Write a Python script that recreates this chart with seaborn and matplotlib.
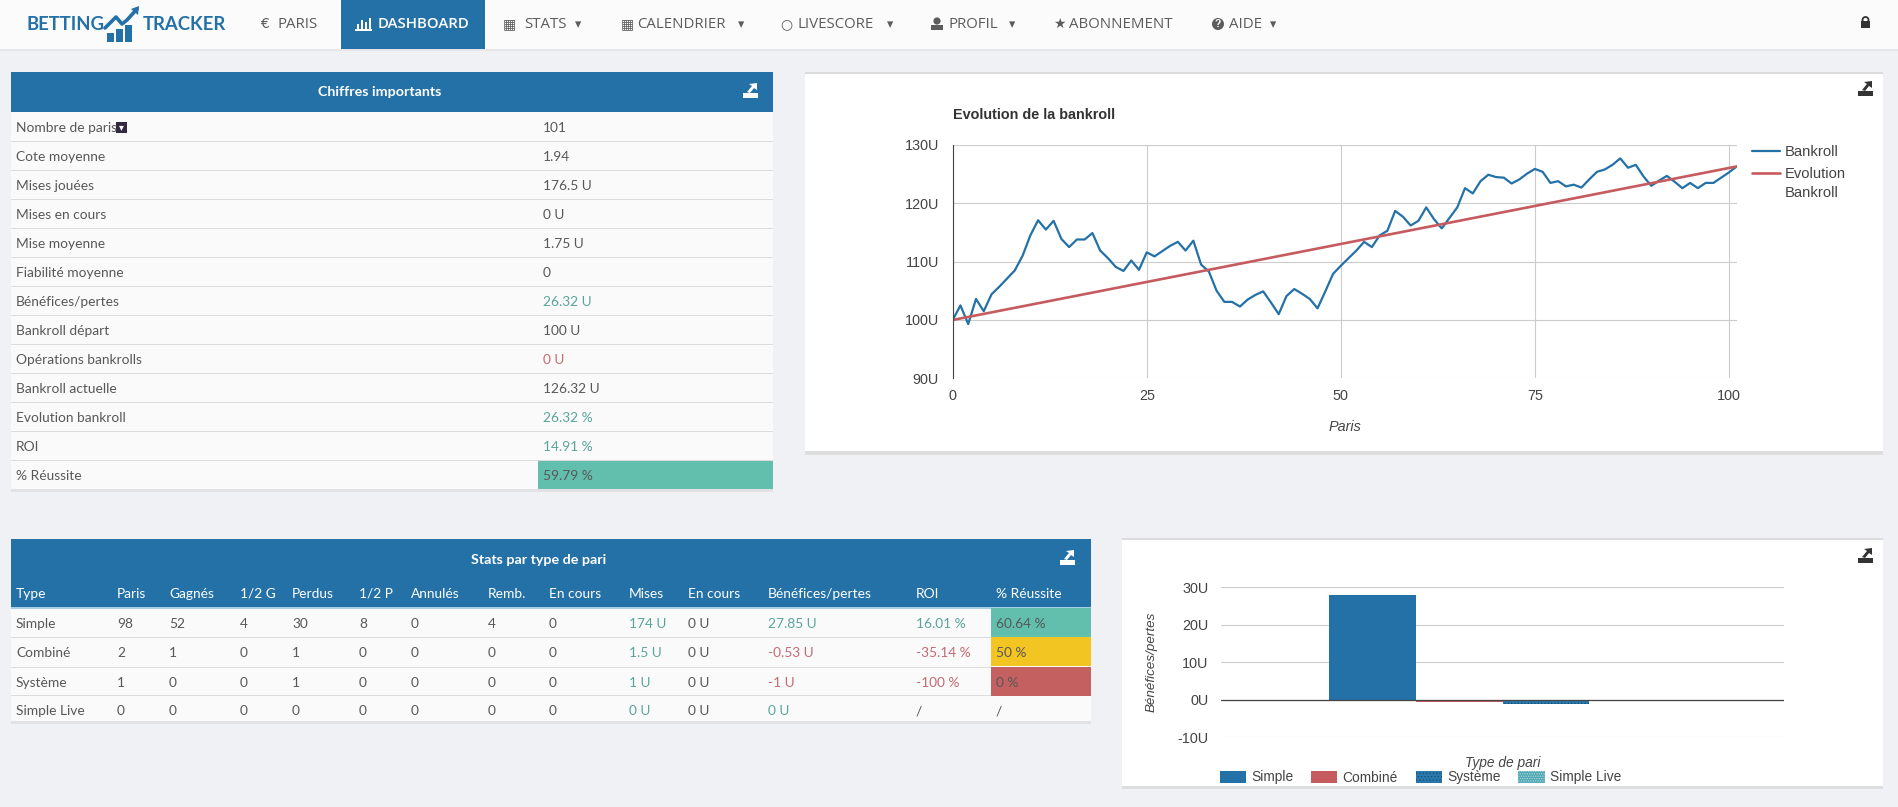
import matplotlib
matplotlib.use('Agg')
import matplotlib.pyplot as plt
import pandas as pd
import seaborn as sns
from matplotlib.patches import Circle, Patch, Polygon, Rectangle

# Values
bankroll = [100, 102.5, 99.3, 103.6, 101.5, 104.4, 105.7, 107.1, 108.5, 111, 114.5, 117.1, 115.5, 117,
            113.9, 112.5, 113.8, 113.8, 114.9, 111.9, 110.6, 109.1, 108.4, 110.2, 108.6, 111.6, 110.9,
            111.8, 112.7, 113.4, 111.9, 113.6, 109.5, 108.3, 105, 103.1, 103.1, 102.3, 103.5, 104.3,
            104.9, 103, 101, 104.1, 105.3, 104.5, 103.6, 102, 104.9, 107.9, 109.3, 110.6, 111.9, 113.4,
            112.5, 114.5, 115.3, 118.7, 117.7, 116.2, 117, 119.3, 117.3, 115.7, 117.5, 119.3, 122.6,
            121.7, 123.8, 124.9, 124.5, 124.4, 123.4, 124.1, 125.1, 125.9, 125.4, 123.5, 123.8, 122.9,
            123.2, 122.7, 124.1, 125.4, 125.8, 126.6, 127.7, 126.1, 126.6, 124.6, 123, 123.9, 124.7,
            123.7, 122.6, 123.5, 122.6, 123.5, 123.5, 124.4, 125.3, 126.32]
evolution_x = [0, 101]
evolution_y = [100, 126.32]
line_ticks_x = [0, 25, 50, 75, 100]
line_ticks_y = [90, 100, 110, 120, 130]

bet_types = ['Simple', 'Combiné', 'Système', 'Simple Live']
bet_profit = [27.85, -0.53, -1, 0]
bar_ticks_y = [-10, 0, 10, 20, 30]

key_labels = ['Nombre de paris', 'Cote moyenne', 'Mises jouées', 'Mises en cours', 'Mise moyenne',
              'Fiabilité moyenne', 'Bénéfices/pertes', 'Bankroll départ', 'Opérations bankrolls',
              'Bankroll actuelle', 'Evolution bankroll', 'ROI', '% Réussite']
key_values = ['101', '1.94', '176.5 U', '0 U', '1.75 U', '0', '26.32 U', '100 U', '0 U', '126.32 U',
              '26.32 %', '14.91 %', '59.79 %']
key_tones = ['n', 'n', 'n', 'n', 'n', 'n', 'g', 'n', 'r', 'n', 'g', 'g', 'n']

type_columns = ['Type', 'Paris', 'Gagnés', '1/2 G', 'Perdus', '1/2 P', 'Annulés', 'Remb.', 'En cours',
                'Mises', 'En cours', 'Bénéfices/pertes', 'ROI', '% Réussite']
type_rows = [
    ['Simple', '98', '52', '4', '30', '8', '0', '4', '0', '174 U', '0 U', '27.85 U', '16.01 %', '60.64 %'],
    ['Combiné', '2', '1', '0', '1', '0', '0', '0', '0', '1.5 U', '0 U', '-0.53 U', '-35.14 %', '50 %'],
    ['Système', '1', '0', '0', '1', '0', '0', '0', '0', '1 U', '0 U', '-1 U', '-100 %', '0 %'],
    ['Simple Live', '0', '0', '0', '0', '0', '0', '0', '0', '0 U', '0 U', '0 U', '/', '/'],
]
profit_tones = ['g', 'r', 'r', 'g']
roi_tones = ['g', 'r', 'r', 'n']
rate_cells = ['#62bfae', '#f2c522', '#c4605f', None]

nav_items = ['PARIS', 'DASHBOARD', 'STATS', 'CALENDRIER', 'LIVESCORE', 'PROFIL', 'ABONNEMENT', 'AIDE']

BLUE = '#2471a8'
RED = '#c65b5f'
BG = '#f0f1f5'
ROW = '#fafafa'
LINE = '#dcdcdc'
TEXT = '#585858'
TONES = {'n': TEXT, 'g': '#5aa59b', 'r': '#c56a72'}
UI_FONT = ['Lato', 'DejaVu Sans']
NAV_FONT = ['Open Sans', 'DejaVu Sans']
CHART_FONT = ['Liberation Sans', 'DejaVu Sans']

W, H = 1899, 807

sns.set_theme(style='whitegrid')
plt.rcParams['font.family'] = CHART_FONT
plt.rcParams['hatch.linewidth'] = 0.6

fig = plt.figure(figsize=(W / 100, H / 100), dpi=100, facecolor=BG)

# page layer in pixel coordinates, for the cards and tables around the charts
page = fig.add_axes([0, 0, 1, 1], zorder=0)
page.set_xlim(0, W)
page.set_ylim(H, 0)
page.axis('off')


def box(x0, y0, x1, y1, color, z=1):
    page.add_patch(Rectangle((x0, y0), x1 - x0, y1 - y0, facecolor=color, edgecolor='none', zorder=z))


def label(x, y, s, size=9.9, color=TEXT, ha='left', family=UI_FONT, **kw):
    page.text(x, y, s, fontsize=size, color=color, ha=ha, va='center', family=family, zorder=5, **kw)


def export_icon(x, y, color):
    box(x - 8, y + 2, x + 7, y + 7, color, 4)
    page.add_patch(Polygon([(x - 4, y + 1), (x + 1, y - 5), (x - 2, y - 7), (x + 6, y - 8), (x + 6, y - 1),
                            (x + 3, y - 3), (x - 1, y + 2)], facecolor=color, edgecolor='none', zorder=4))


# nav bar
box(0, 0, W, 49, '#fbfbfb')
box(0, 49, W, 51, '#e6e6ea')
box(341, 0, 485, 49, BLUE, 2)
label(27, 24, 'BETTING', 13.3, BLUE, fontweight='bold')
label(143, 24, 'TRACKER', 13.3, BLUE, fontweight='bold')
for bx, top in zip([107, 116, 125], [33, 29, 25]):
    box(bx, top, bx + 7, 42, BLUE, 3)
page.plot([105, 116, 122, 127, 137], [28, 17, 24, 20, 9], color=BLUE, lw=2.6, zorder=3)
page.add_patch(Polygon([(131, 9), (139, 6), (138, 15)], facecolor=BLUE, edgecolor='none', zorder=3))

nav_x = [278, 378, 524, 637, 798, 949, 1069, 1229]
icon_x = [264, 364, 509, 627, 786, 937, 1059, 1218]
nav_icons = ['€', None, '▦', '▦', '○', None, '★', None]
has_caret = [False, False, True, True, True, True, False, True]
nav_width = [48, 91, 46, 96, 84, 55, 107, 36]
for name, tx, ix, glyph, caret, wd in zip(nav_items, nav_x, icon_x, nav_icons, has_caret, nav_width):
    active = name == 'DASHBOARD'
    col = 'white' if active else '#5c5c5c'
    label(tx, 24, name, 10.8, col, family=NAV_FONT, fontweight='semibold' if active else 'normal')
    if glyph:
        label(ix, 24, glyph, 10, col, ha='center', family=['DejaVu Sans'])
    if caret:
        label(tx + wd + 8, 25, '▾', 9, col, ha='center', family=['DejaVu Sans'])
for bx, top in zip([357, 361, 365, 369], [24, 20, 22, 18]):
    box(bx, top, bx + 2.5, 29, 'white', 3)
box(355, 29, 372, 30.5, 'white', 3)
# profil and aide icons
page.add_patch(Circle((937, 21), 3.6, facecolor='#5c5c5c', edgecolor='none', zorder=4))
box(931, 25, 943, 30, '#5c5c5c', 4)
page.add_patch(Circle((1218, 24), 6, facecolor='#5c5c5c', edgecolor='none', zorder=4))
label(1218, 24, '?', 7.5, 'white', ha='center', family=CHART_FONT, fontweight='bold')
box(1861, 21, 1870, 28, '#333333', 4)
page.add_patch(Circle((1865.5, 20), 3, facecolor='none', edgecolor='#333333', lw=1.3, zorder=4))

# key figures table
box(11, 112, 773, 489, ROW)
box(11, 489, 773, 492, '#e2e2e4')
box(11, 72, 773, 112, BLUE, 2)
label(380, 92, 'Chiffres importants', 10.3, 'white', ha='center', fontweight='bold')
export_icon(751, 91, 'white')
for i, (name, val, tone) in enumerate(zip(key_labels, key_values, key_tones)):
    y = 112 + 29 * i
    if i:
        box(11, y - 0.5, 773, y + 0.7, LINE, 2)
    label(16, y + 16, name)
    if name == '% Réussite':
        box(538, y + 0.7, 773, y + 28.7, rate_cells[0], 3)
    label(543, y + 16, val, color=TONES[tone])
box(116, 122, 127, 133, '#33293f', 4)
label(121.5, 127.5, '▾', 7, 'white', ha='center', family=['DejaVu Sans'])

# stats per bet type table
col_x = [16, 117, 169, 240, 292, 359, 411, 487.5, 549, 629, 688, 768, 916, 996]
box(11, 607, 1091.5, 721, ROW)
box(11, 721, 1091.5, 724, '#e2e2e4')
box(11, 539, 1091.5, 607, BLUE, 2)
box(11, 607, 1091.5, 609, '#a9cfe6', 2)
label(539, 560, 'Stats par type de pari', 10.3, 'white', ha='center', fontweight='bold')
export_icon(1068, 558, 'white')
for cx, name in zip(col_x, type_columns):
    label(cx, 594, name, color='white')
row_y = [624, 653, 683, 711]
for r, row in enumerate(type_rows):
    y = row_y[r]
    if r:
        box(11, y - 16, 1091.5, y - 15, LINE, 2)
    if rate_cells[r]:
        box(991, y - 16, 1091.5, y + 13, rate_cells[r], 3)
    for c, (cx, val) in enumerate(zip(col_x, row)):
        tone = 'n'
        if c == 9:
            tone = 'g'
        elif c == 11:
            tone = profit_tones[r]
        elif c == 12:
            tone = roi_tones[r]
        label(cx, y, val, color=TONES[tone])

# chart cards
box(805, 73, 1883, 451, 'white')
box(805, 451, 1883, 455, '#dededf')
box(805, 72, 1883, 73.5, '#dcdcdc', 2)
export_icon(1866, 89, '#333333')
box(1122, 539, 1883.5, 786, 'white')
box(1122, 786, 1883.5, 789, '#dededf')
box(1122, 538, 1883.5, 539.5, '#dcdcdc', 2)
export_icon(1866, 556, '#333333')


def chart_axes(x0, y0, x1, y1):
    return fig.add_axes([x0 / W, 1 - y1 / H, (x1 - x0) / W, (y1 - y0) / H], zorder=2, facecolor='white')


TICK_SIZE = 10.4
GRID_LW = 0.8

# bankroll line chart
ax = chart_axes(952.7, 145, 1736.7, 378.3)
curve = pd.concat([
    pd.DataFrame({'Paris': range(len(bankroll)), 'U': bankroll, 'Serie': 'Bankroll'}),
    pd.DataFrame({'Paris': evolution_x, 'U': evolution_y, 'Serie': 'Evolution\nBankroll'}),
])
sns.lineplot(data=curve, x='Paris', y='U', hue='Serie', palette=[BLUE, RED], linewidth=1.6,
             estimator=None, errorbar=None, ax=ax)
ax.get_lines()[1].set_linewidth(1.9)
ax.set_xlim(0, 101)
ax.set_ylim(90, 130)
ax.set_xticks(line_ticks_x)
ax.set_yticks(line_ticks_y)
ax.set_yticklabels([f'{v}U' for v in line_ticks_y])
ax.grid(True, color='#cccccc', linewidth=GRID_LW)
for side in ['top', 'right', 'bottom']:
    ax.spines[side].set_visible(False)
ax.spines['left'].set_color('#444444')
ax.spines['left'].set_linewidth(0.8)
ax.tick_params(axis='both', length=0, labelsize=TICK_SIZE, labelcolor='#444444')
ax.tick_params(axis='y', pad=10)
ax.tick_params(axis='x', pad=8)
ax.set_xlabel('Paris', fontsize=TICK_SIZE, fontstyle='italic', color='#444444', labelpad=12)
ax.set_ylabel('')
ax.set_title('Evolution de la bankroll', loc='left', fontsize=10.4, fontweight='bold', color='#333333', pad=19)
leg = ax.legend(handles=ax.get_lines()[:2], labels=['Bankroll', 'Evolution\nBankroll'], loc='upper left',
                bbox_to_anchor=(1.019, 0.998), frameon=False, fontsize=10.6, labelcolor='#444444',
                handlelength=1.96, handletextpad=0.3, labelspacing=0.5, borderaxespad=0, borderpad=0)
leg.get_texts()[1].set_linespacing(1.45)
# the handle of a two line label sits on its first line in the reference
second = leg.get_lines()[1]
second.set_ydata([v + 8 for v in second.get_ydata()])

# profit per bet type bars
bars = pd.DataFrame({'Groupe': [''] * len(bet_types), 'Type': bet_types, 'U': bet_profit})
bar_colors = [BLUE, RED, '#2a79ad', '#4fa8b3']
bx = chart_axes(1221, 587.3, 1784, 737.3)
sns.barplot(data=bars, x='Groupe', y='U', hue='Type', hue_order=bet_types, palette=bar_colors,
            width=0.615, gap=0, saturation=1, legend=False, errorbar=None, ax=bx)
bx.set_xlim(-0.5, 0.5)
bx.set_ylim(-10, 30)
bx.set_yticks(bar_ticks_y)
bx.set_yticklabels([f'{v}U' for v in bar_ticks_y])
bx.set_xticks([])
bx.grid(True, axis='y', color='#cccccc', linewidth=GRID_LW)
bx.set_axisbelow(True)
bx.axhline(0, color='#444444', linewidth=0.9, zorder=4)
for spine in bx.spines.values():
    spine.set_visible(False)
bx.tick_params(axis='y', length=0, labelsize=TICK_SIZE, labelcolor='#444444', pad=9)
bx.set_xlabel('Type de pari', fontsize=9.9, fontstyle='italic', color='#444444', labelpad=13.5)
bx.set_ylabel('Bénéfices/pertes', fontsize=9.6, fontstyle='italic', color='#444444', labelpad=14)
bar_hatch = [None, None, '.....', '.......']
hatch_color = [None, None, '#174f7a', '#b5dde0']
legend_handles = []
for patch, col, ht, hc in zip(bx.patches, bar_colors, bar_hatch, hatch_color):
    patch.set_linewidth(0)
    if ht:
        patch.set_hatch(ht)
        patch.set_edgecolor(hc)
    legend_handles.append(Patch(facecolor=col, edgecolor=hc or col, hatch=ht, linewidth=0))
bx.legend(handles=legend_handles, labels=bet_types, loc='upper left', bbox_to_anchor=(1220 / W, 1 - 770.5 / H),
          bbox_transform=fig.transFigure, ncols=4, frameon=False, fontsize=9.9, labelcolor='#444444',
          handlelength=1.9, handleheight=0.95, handletextpad=0.38, columnspacing=1.3, borderpad=0,
          borderaxespad=0)

fig.savefig('out.png', dpi=100, facecolor=BG)
